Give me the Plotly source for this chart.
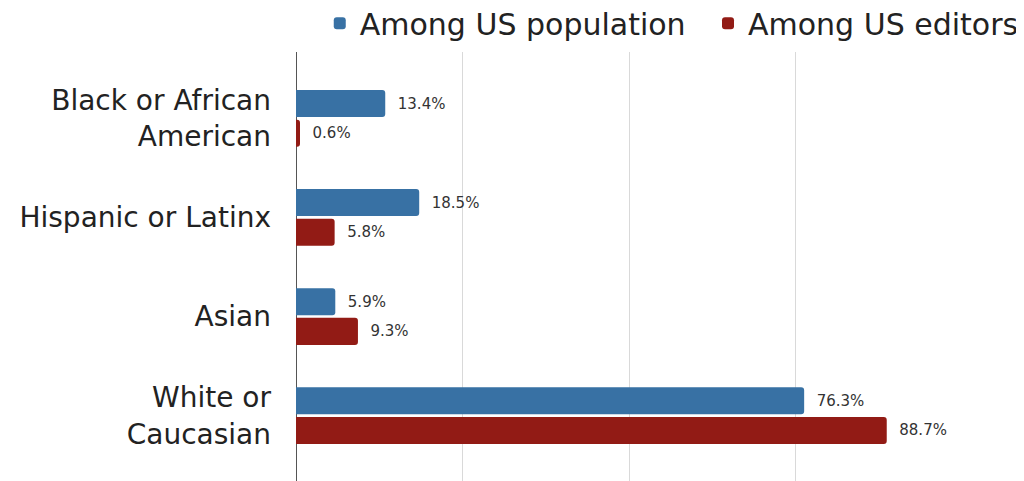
import plotly.graph_objects as go

categories = ["Black or African<br>American", "Hispanic or Latinx", "Asian", "White or<br>Caucasian"]
population = [13.4, 18.5, 5.9, 76.3]
editors = [0.6, 5.8, 9.3, 88.7]
series_names = ["Among US population", "Among US editors"]
colors = ["#3871a4", "#921b15"]

FONT = "DejaVu Sans"

fig = go.Figure()
for i, (name, vals, col) in enumerate(zip(series_names, [population, editors], colors)):
    fig.add_trace(go.Bar(
        y=categories, x=vals, name=name, orientation="h",
        legend="legend" if i == 0 else "legend2",
        marker=dict(color=col, cornerradius=3, line=dict(width=0)),
        text=["\u00a0\u00a0" + f"{v:.1f}%" for v in vals],
        textposition="outside", cliponaxis=False,
        textfont=dict(family=FONT, size=15, color="#333333"),
    ))

legend_common = dict(orientation="h", xref="container", yref="container",
                     xanchor="right", y=0.968, yanchor="middle",
                     font=dict(family=FONT, size=30, color="#222222"),
                     itemwidth=30)

# page body has an 8px margin; figure sized to fill the rest of the 1024x481 view
fig.update_layout(
    width=1016, height=473,
    margin=dict(l=288, r=62, t=44, b=0),
    paper_bgcolor="white", plot_bgcolor="white",
    barmode="group", bargap=0.40, bargroupgap=0.09,
    font=dict(family=FONT, color="#222222"),
    showlegend=True,
    legend=dict(x=0.672, **legend_common),
    legend2=dict(x=1.0, **legend_common),
    xaxis=dict(range=[0, 100], dtick=25, showticklabels=False,
               showgrid=True, gridcolor="#d9d9d9", gridwidth=1,
               zeroline=True, zerolinecolor="#555555", zerolinewidth=1,
               showline=False, fixedrange=True),
    yaxis=dict(type="category", range=[3.66, -0.67], showgrid=False,
               tickfont=dict(family=FONT, size=28, color="#222222"),
               ticks="", ticklabelstandoff=24, showline=False),
)

fig.write_html("out.html")
